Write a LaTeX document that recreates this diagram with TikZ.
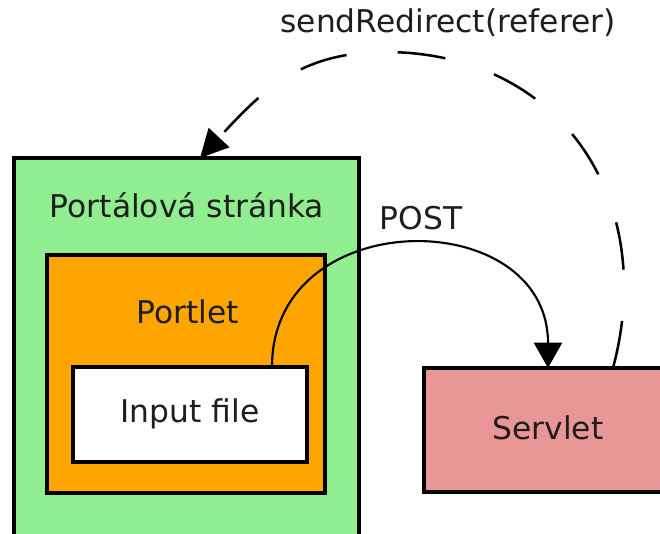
\documentclass[tikz,border=0pt]{standalone}
\usepackage{fontspec}
\setmainfont{DejaVu Sans}
\usetikzlibrary{arrows.meta}
\definecolor{portalgreen}{HTML}{90EE90}
\definecolor{portletorange}{HTML}{FFA500}
\definecolor{servletpink}{HTML}{E89696}
\definecolor{txt}{HTML}{1E1E1E}
\begin{document}
\begin{tikzpicture}[x=0.75pt,y=-0.75pt,
  font=\fontsize{23.5}{28}\selectfont,
  boxstyle/.style={draw=black, line width=2.3pt, rectangle, inner sep=0pt, outer sep=0pt},
  lbl/.style={text=txt, inner sep=0pt},
  postarrow/.style={line width=1.6pt, -{Triangle[width=21pt,length=19pt]}},
  redirarrow/.style={line width=1.9pt, dash pattern=on 36pt off 38.5pt, -{Triangle[width=21pt,length=21pt]}}
]
\useasboundingbox (0,0) rectangle (660,533);
\node[boxstyle, fill=portalgreen, minimum width=345*0.75pt, minimum height=387*0.75pt] (portal) at (186.5,351.5) {};
\node[boxstyle, fill=portletorange, minimum width=278*0.75pt, minimum height=238*0.75pt] (portlet) at (186,374) {};
\node[boxstyle, fill=white, minimum width=234*0.75pt, minimum height=95*0.75pt] (input) at (190,414.5) {};
\node[boxstyle, fill=servletpink, minimum width=246*0.75pt, minimum height=124*0.75pt] (servlet) at (547,430) {};

\node[lbl] (portaltext) at (187,205) {Portálová stránka};
\node[lbl] (portlettext) at (188,312) {Portlet};
\node[lbl] (inputtext) at (190,414) {Input file};
\node[lbl] (servlettext) at (548,428) {Servlet};
\node[lbl] (posttext) at (421,218) {POST};
\node[lbl] (redirtext) at (448,23) {sendRedirect(referer)};

\draw[postarrow] ([xshift=82*0.75pt]input.north) to[out=90,in=90,looseness=1.52] ([xshift=1*0.75pt]servlet.north);

\coordinate (peak) at (385,52);
\draw[redirarrow] ([xshift=66*0.75pt]servlet.north) to[out=75,in=0,looseness=1.15] (peak)
  to[out=180,in=47,looseness=1.05] ([xshift=13.5*0.75pt]portal.north);
\end{tikzpicture}
\end{document}
